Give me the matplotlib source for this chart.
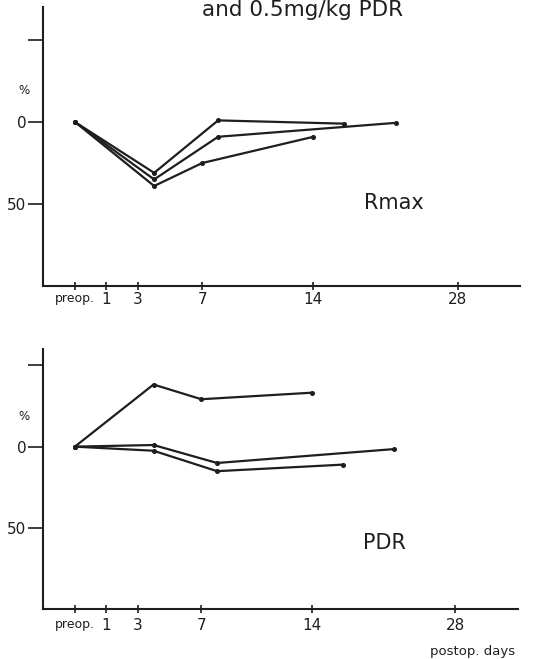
import numpy as np
import matplotlib
matplotlib.use("Agg")
import matplotlib.pyplot as plt

# ---- data ----
tick_days = [0, 1, 3, 7, 14, 28]
tick_labels = ["preop.", "1", "3", "7", "14", "28"]

rmax_x = [[0, 4, 8, 17], [0, 4, 8, 22], [0, 4, 7, 14]]
rmax_y = [[0, 31, -1, 1], [0, 35, 9, 0.5], [0, 39, 25, 9]]

pdr_x = [[0, 4, 7, 14], [0, 4, 8, 22], [0, 4, 8, 17]]
pdr_y = [[0, -38, -29, -33], [0, -1, 10, 1.5], [0, 2.5, 15, 11]]

# ---- piecewise axis scale (non-linear day axis) ----
_anchor_days = np.array([-2, 0, 1, 3, 7, 14, 28, 40], float)
_anchor_pos = np.array([-62, 0, 31, 63, 127, 238, 382, 505], float)

def fwd(d):
    return np.interp(d, _anchor_days, _anchor_pos)

def inv(p):
    return np.interp(p, _anchor_pos, _anchor_days)

fig = plt.figure(figsize=(5.38, 6.59), dpi=100)
INK = "#1e1e1e"

def setup(ax, ylim, label_pad):
    ax.set_xscale("function", functions=(fwd, inv))
    ax.set_xlim(-1.03, 34.1)
    ax.set_ylim(*ylim)
    ax.spines["top"].set_visible(False)
    ax.spines["right"].set_visible(False)
    for s in ("left", "bottom"):
        ax.spines[s].set_linewidth(1.5)
        ax.spines[s].set_color(INK)
    ax.set_xticks(tick_days)
    ax.set_xticklabels(tick_labels)
    ax.minorticks_off()
    ax.tick_params(axis="x", direction="inout", length=6, width=1.2,
                   pad=label_pad, labelsize=11, colors=INK)
    for t in ax.get_xticklabels():
        if t.get_text() == "preop.":
            t.set_fontsize(9)
    ax.set_yticks([-50, 0, 50])
    ax.set_yticklabels(["", "0", "50"])
    ax.tick_params(axis="y", direction="out", length=11, width=1.2,
                   pad=1, labelsize=11, colors=INK)

def draw(ax, xs, ys):
    for x, y in zip(xs, ys):
        ax.plot(x, y, color=INK, lw=1.6, marker="o", ms=2.6,
                solid_joinstyle="miter")

ax1 = fig.add_axes([0.080, 0.566, 0.887, 0.423])
setup(ax1, (100, -70), 1)
draw(ax1, rmax_x, rmax_y)
ax1.text(-0.04, 0.703, "%", transform=ax1.transAxes, fontsize=8.5,
         ha="center", va="center", color=INK)
ax1.text(0.735, 0.298, "Rmax", transform=ax1.transAxes, fontsize=15,
         ha="center", va="center", color=INK)

ax2 = fig.add_axes([0.080, 0.0766, 0.882, 0.3945])
setup(ax2, (99, -60), 4)
draw(ax2, pdr_x, pdr_y)
ax2.text(-0.04, 0.737, "%", transform=ax2.transAxes, fontsize=8.5,
         ha="center", va="center", color=INK)
ax2.text(0.72, 0.252, "PDR", transform=ax2.transAxes, fontsize=15,
         ha="center", va="center", color=INK)

fig.text(0.957, 0.011, "postop. days", fontsize=9.5, ha="right",
         va="center", color=INK)
fig.text(0.562, 0.975, "and 0.5mg/kg PDR", fontsize=15.5, ha="center",
         va="baseline", color=INK)

fig.savefig("out.png", dpi=100)
